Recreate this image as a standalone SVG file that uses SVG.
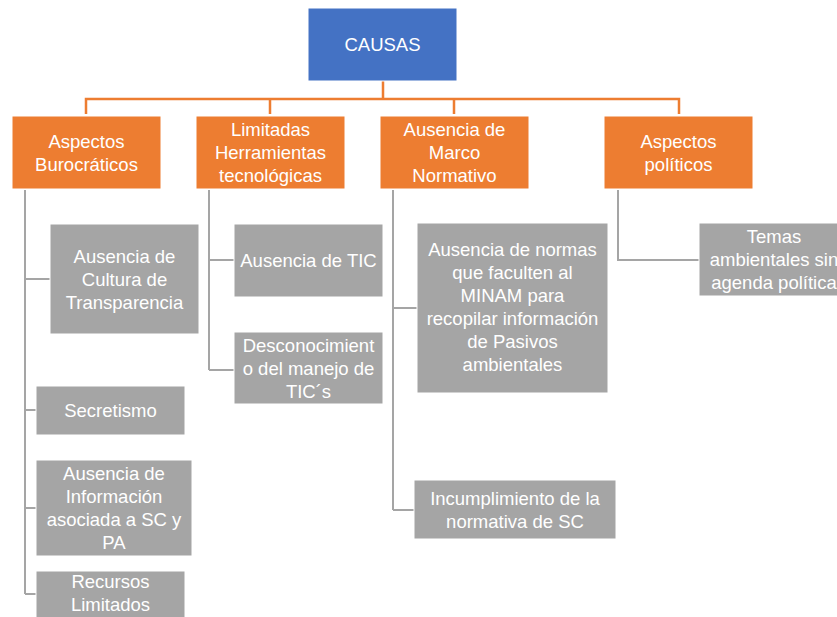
<svg xmlns="http://www.w3.org/2000/svg" width="837" height="617" viewBox="0 0 837 617">
<style>
text{font-family:"Liberation Sans",Arial,sans-serif;font-size:18.5px;fill:#fff;text-anchor:middle}
.root{fill:#4472C4;stroke:#fff;stroke-width:1}
.cat{fill:#ED7D31;stroke:#fff;stroke-width:1}
.leaf{fill:#A5A5A5;stroke:#fff;stroke-width:1}
.oc{fill:none;stroke:#ED7D31;stroke-width:2.5}
.gc{fill:none;stroke:#A5A5A5;stroke-width:2}
</style>
<rect width="837" height="617" fill="#fff"/>
<g id="connectors">
<path class="oc" d="M383 81V99M86 114V99H679V114M270 99V114M454 99V114"/>
<path class="gc" d="M25 190V594M25 279H50M25 410H36M25 508H36M25 594H36"/>
<path class="gc" d="M209 190V370M209 260H234M209 370H234"/>
<path class="gc" d="M393 190V510M393 308H417M393 510H414"/>
<path class="gc" d="M618 190V260H699"/>
</g>
<g id="causas"><rect class="root" x="308" y="8" width="149" height="73"/><text x="382.5" y="51">CAUSAS</text></g>
<g id="burocraticos"><rect class="cat" x="12" y="116" width="149" height="73"/><text x="86.5" y="147.5">Aspectos</text><text x="86.5" y="170.5">Burocráticos</text></g>
<g id="herramientas"><rect class="cat" x="196" y="116" width="149" height="73"/><text x="270.5" y="136">Limitadas</text><text x="270.5" y="159">Herramientas</text><text x="270.5" y="182">tecnológicas</text></g>
<g id="marco"><rect class="cat" x="380" y="116" width="149" height="73"/><text x="454.5" y="136">Ausencia de</text><text x="454.5" y="159">Marco</text><text x="454.5" y="182">Normativo</text></g>
<g id="politicos"><rect class="cat" x="604" y="116" width="149" height="73"/><text x="678.5" y="147.5">Aspectos</text><text x="678.5" y="170.5">políticos</text></g>
<g id="cultura"><rect class="leaf" x="50" y="224" width="149" height="110"/><text x="124.5" y="262.5">Ausencia de</text><text x="124.5" y="285.5">Cultura de</text><text x="124.5" y="308.5">Transparencia</text></g>
<g id="secretismo"><rect class="leaf" x="36" y="386" width="149" height="49"/><text x="110.5" y="417">Secretismo</text></g>
<g id="informacion"><rect class="leaf" x="36" y="460" width="156" height="96"/><text x="114" y="480">Ausencia de</text><text x="114" y="503">Información</text><text x="114" y="526">asociada a SC y</text><text x="114" y="549">PA</text></g>
<g id="recursos"><rect class="leaf" x="36" y="571" width="149" height="52"/><text x="110.5" y="588">Recursos</text><text x="110.5" y="611">Limitados</text></g>
<g id="tic"><rect class="leaf" x="234" y="224" width="149" height="73"/><text x="308.5" y="267">Ausencia de TIC</text></g>
<g id="desconocimiento"><rect class="leaf" x="234" y="332" width="149" height="72"/><text x="308.5" y="351.5">Desconocimient</text><text x="308.5" y="374.5">o del manejo de</text><text x="308.5" y="397.5">TIC´s</text></g>
<g id="normas"><rect class="leaf" x="417" y="223" width="191" height="170"/><text x="512.5" y="256">Ausencia de normas</text><text x="512.5" y="279">que faculten al</text><text x="512.5" y="302">MINAM para</text><text x="512.5" y="325">recopilar información</text><text x="512.5" y="348">de Pasivos</text><text x="512.5" y="371">ambientales</text></g>
<g id="incumplimiento"><rect class="leaf" x="414" y="480" width="202" height="59"/><text x="515" y="504.5">Incumplimiento de la</text><text x="515" y="527.5">normativa de SC</text></g>
<g id="temas"><rect class="leaf" x="699" y="223" width="150" height="73"/><text x="774" y="243">Temas</text><text x="774" y="266">ambientales sin</text><text x="774" y="289">agenda política</text></g>
</svg>
